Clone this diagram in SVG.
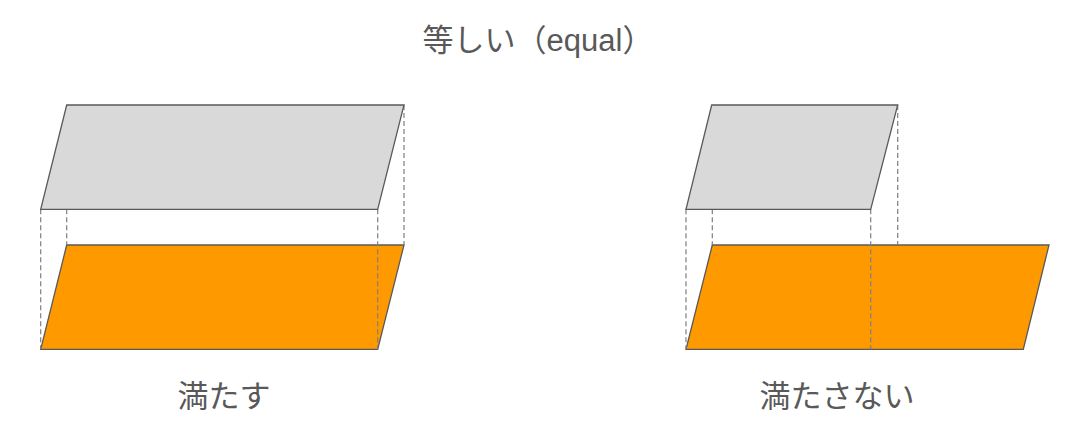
<svg xmlns="http://www.w3.org/2000/svg" width="1080" height="429" viewBox="0 0 1080 429">
<style>
.lbl{font-family:"Liberation Sans","Noto Sans CJK JP",sans-serif;fill:#595959;text-anchor:middle}
.gray{fill:#d9d9d9;stroke:#595959;stroke-width:1.3}
.orange{fill:#ff9900;stroke:#595959;stroke-width:1.3}
.dash{stroke:#7f7f7f;stroke-width:1.2;stroke-dasharray:5 3;fill:none}
</style>
<rect width="1080" height="429" fill="#ffffff"/>
<g id="title"><text class="lbl" x="538" y="51" font-size="31">等しい（equal）</text></g>
<g id="left-orange"><polygon class="orange" points="66.7,245 404,245 377.7,349.3 40.7,349.3"/></g>
<g id="right-orange"><polygon class="orange" points="712.3,245 1049,245 1023.3,349.3 686,349.3"/></g>
<g id="connectors">
<line class="dash" x1="40.7" y1="209.3" x2="40.7" y2="349.3"/>
<line class="dash" x1="66.7" y1="209.3" x2="66.7" y2="245"/>
<line class="dash" x1="377.7" y1="209.3" x2="377.7" y2="349.3"/>
<line class="dash" x1="404" y1="105" x2="404" y2="245"/>
<line class="dash" x1="686" y1="209.3" x2="686" y2="349.3"/>
<line class="dash" x1="712.3" y1="209.3" x2="712.3" y2="245"/>
<line class="dash" x1="870.7" y1="209.3" x2="870.7" y2="349.3"/>
<line class="dash" x1="897.7" y1="105" x2="897.7" y2="245"/>
</g>
<g id="left-gray"><polygon class="gray" points="66.7,105 404,105 377.7,209.3 40.7,209.3"/></g>
<g id="right-gray"><polygon class="gray" points="711.7,105 897.7,105 870.7,209.3 686,209.3"/></g>
<g id="label-left"><text class="lbl" x="224" y="407" font-size="31">満たす</text></g>
<g id="label-right"><text class="lbl" x="837" y="407" font-size="31">満たさない</text></g>
</svg>
